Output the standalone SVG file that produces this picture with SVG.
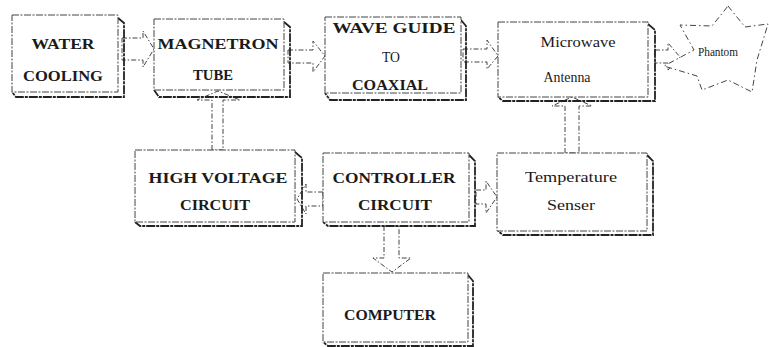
<svg xmlns="http://www.w3.org/2000/svg" width="769" height="347" viewBox="0 0 769 347">
<defs>
<style>
.box{fill:#fff;stroke:#444;stroke-width:1;stroke-dasharray:7 1.5 2 1.5}
.sh{fill:none;stroke:#222;stroke-width:1.8;stroke-dasharray:9 1 3 1}
.arr{fill:#fff;stroke:#444;stroke-width:1;stroke-dasharray:5 2 1.5 2}
.t{font-family:"Liberation Serif","Times New Roman",serif;font-size:15px;fill:#1a1a1a;text-anchor:middle;font-weight:bold}
.s{font-family:"Liberation Serif","Times New Roman",serif;font-size:14px;fill:#1a1a1a;text-anchor:middle}
.star{fill:#fff;stroke:#444;stroke-width:1;stroke-dasharray:6 3 1.5 3}
</style>
</defs>
<rect width="769" height="347" fill="#fff"/>

<g id="connectors">
<path class="arr" d="M122,38 H143 V31 L154,49 L143,67 V60 H122 Z"/>
<path class="arr" d="M288,50 H313 V41 L325,56 L313,72 V63 H288 Z"/>
<path class="arr" d="M463,49 H487 V40 L498,56 L487,69 V62 H463 Z"/>
<path class="arr" d="M655,50 H668 V43 L680,57 L668,70 V63 H655 Z"/>
<path class="arr" d="M212,150 V100 H197 L218,91 L240,100 H223 V150 Z"/>
<path class="arr" d="M565,153 V106 H552 L572,97 L592,106 H579 V153 Z"/>
<path class="arr" d="M323,192 H306 V184 L297,199 L306,214 V206 H323 Z"/>
<path class="arr" d="M476,190 H486 V181 L497,197 L486,213 V204 H476 Z"/>
<path class="arr" d="M384,226 V258 H373 L392,272 L411,258 H399 V226 Z"/>
</g>

<g id="water">
<path class="sh" d="M118,18 L124,23 V97 H16 L12,92"/>
<rect class="box" x="12" y="15" width="106" height="77"/>
<text class="t" x="63" y="49" textLength="63" lengthAdjust="spacingAndGlyphs">WATER</text>
<text class="t" x="63" y="81" textLength="80" lengthAdjust="spacingAndGlyphs">COOLING</text>
</g>

<g id="magnetron">
<path class="sh" d="M284,22 L290,27 V97 H159 L154,90"/>
<rect class="box" x="154" y="19" width="130" height="71"/>
<text class="t" x="218" y="49" textLength="121" lengthAdjust="spacingAndGlyphs">MAGNETRON</text>
<text class="t" x="213" y="80" textLength="40" lengthAdjust="spacingAndGlyphs">TUBE</text>
</g>

<g id="waveguide">
<path class="sh" d="M461,20 L466,26 V100 H330 L325,93"/>
<rect class="box" x="325" y="17" width="136" height="76"/>
<text class="t" x="394" y="33" textLength="123" lengthAdjust="spacingAndGlyphs">WAVE GUIDE</text>
<text class="s" x="391" y="62" textLength="18" lengthAdjust="spacingAndGlyphs">TO</text>
<text class="t" x="390" y="90" textLength="76" lengthAdjust="spacingAndGlyphs">COAXIAL</text>
</g>

<g id="antenna">
<path class="sh" d="M648,24 L655,30 V101 H503 L498,97"/>
<rect class="box" x="498" y="22" width="150" height="75"/>
<text class="s" x="578" y="47" textLength="75" lengthAdjust="spacingAndGlyphs">Microwave</text>
<text class="s" x="567" y="82" textLength="47" lengthAdjust="spacingAndGlyphs">Antenna</text>
</g>

<g id="phantom">
<polygon class="star" points="728,6 745,27 768,24 757,60 752,92 728,80 702,90 697,76 664,66 694,50 680,25 712,26"/>
<text x="718" y="56" font-family="Liberation Serif, serif" font-size="12" fill="#1a1a1a" text-anchor="middle" textLength="40" lengthAdjust="spacingAndGlyphs">Phantom</text>
</g>

<g id="highvoltage">
<path class="sh" d="M295,152 L302,158 V226 H140 L135,222"/>
<rect class="box" x="135" y="150" width="160" height="72"/>
<text class="t" x="218" y="183" textLength="139" lengthAdjust="spacingAndGlyphs">HIGH VOLTAGE</text>
<text class="t" x="215" y="210" textLength="70" lengthAdjust="spacingAndGlyphs">CIRCUIT</text>
</g>

<g id="controller">
<path class="sh" d="M469,155 L475,161 V226 H328 L323,222"/>
<rect class="box" x="323" y="153" width="146" height="69"/>
<text class="t" x="394" y="183" textLength="123" lengthAdjust="spacingAndGlyphs">CONTROLLER</text>
<text class="t" x="395" y="210" textLength="74" lengthAdjust="spacingAndGlyphs">CIRCUIT</text>
</g>

<g id="temperature">
<path class="sh" d="M647,155 L653,161 V235 H503 L498,231"/>
<rect class="box" x="497" y="153" width="150" height="78"/>
<text class="s" x="571" y="182" textLength="92" lengthAdjust="spacingAndGlyphs">Temperature</text>
<text class="s" x="571" y="210" textLength="48" lengthAdjust="spacingAndGlyphs">Senser</text>
</g>

<g id="computer">
<path class="sh" d="M468,275 L473,281 V346 H328 L323,342"/>
<rect class="box" x="323" y="273" width="145" height="69"/>
<text class="t" x="390" y="320" textLength="92" lengthAdjust="spacingAndGlyphs">COMPUTER</text>
</g>
</svg>
